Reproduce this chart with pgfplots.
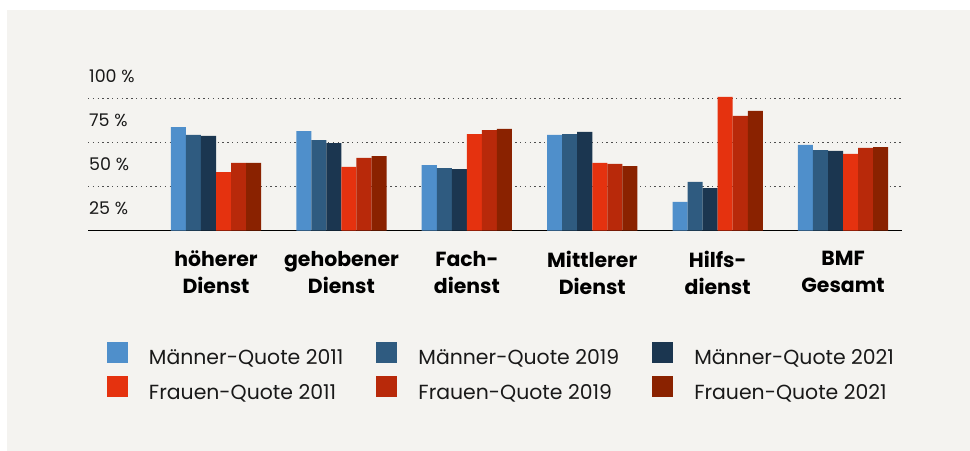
\documentclass[border=0pt]{standalone}
\usepackage{pgfplots}
\pgfplotsset{compat=1.18}
\usepackage{fontspec}
\setmainfont{Poppins}
\definecolor{cA}{HTML}{4F8FCB}
\definecolor{cB}{HTML}{2F5B80}
\definecolor{cC}{HTML}{1B3650}
\definecolor{cD}{HTML}{E5320F}
\definecolor{cE}{HTML}{B8290A}
\definecolor{cF}{HTML}{8A2200}
\definecolor{panel}{HTML}{F4F3F0}
\definecolor{gridc}{HTML}{4D4D4D}
\begin{document}
\begin{tikzpicture}
\fill[white] (-88bp,-220.5bp) rectangle (882bp,230.5bp);
\fill[panel] (-81bp,-220.5bp) rectangle (882bp,220.5bp);
\begin{axis}[
  at={(0,0)}, anchor=south west,
  scale only axis, width=814bp, height=176bp,
  xmin=-1.021, xmax=5.47, ymin=0, ymax=100,
  ybar, bar width=0.12,
  axis lines*=left,
  y axis line style={draw=none},
  x axis line style={black, line width=1.5bp},
  xtick={0,1,2,3,4,5},
  xticklabels={{höherer\\Dienst},{gehobener\\Dienst},{Fach-\\dienst},{Mittlerer\\Dienst},{Hilfs-\\dienst},{BMF\\Gesamt}},
  xticklabel style={align=center, font=\bfseries\fontsize{20.5}{27}\selectfont, yshift=-17bp},
  ytick={25,50,75,100},
  yticklabels={25 \%,50 \%,75 \%,100 \%},
  yticklabel style={anchor=west, inner sep=0pt, xshift=1bp, yshift=-22bp, font=\fontsize{17.5}{20}\selectfont, text=black!90},
  major tick length=0pt,
  extra y ticks={25,50,75},
  extra y tick labels={},
  extra y tick style={grid=major, major grid style={gridc, line width=1.4bp, dash pattern=on 1.4bp off 3.4bp}},
  legend columns=3,
  legend cell align=left,
  legend style={at={(rel axis cs:0.0233,-0.631)}, anchor=north west, draw=none, fill=none, inner sep=0pt, outer sep=0pt,
    row sep=10bp,
    nodes={inner sep=0pt, font=\fontsize{20.5}{24}\selectfont, text=black!90},
    /tikz/every odd column/.append style={column sep=21bp},
    /tikz/every even column/.append style={column sep=33bp}},
  legend image code/.code={\fill[#1] (0bp,-4.5bp) rectangle (21bp,16.5bp);},
]
\addplot[fill=cA, draw=none, bar shift=-0.30] coordinates {(0,58.8) (1,56.5) (2,37.2) (3,54.3) (4,16.2) (5,48.6)};
\addplot[fill=cB, draw=none, bar shift=-0.18] coordinates {(0,54.3) (1,51.4) (2,35.5) (3,54.8) (4,27.6) (5,45.7)};
\addplot[fill=cC, draw=none, bar shift=-0.06] coordinates {(0,53.7) (1,49.7) (2,34.9) (3,56.0) (4,24.1) (5,45.2)};
\addplot[fill=cD, draw=none, bar shift=0.06] coordinates {(0,33.2) (1,36.1) (2,54.8) (3,38.4) (4,75.9) (5,43.5)};
\addplot[fill=cE, draw=none, bar shift=0.18] coordinates {(0,38.4) (1,41.2) (2,57.1) (3,37.8) (4,65.1) (5,46.9)};
\addplot[fill=cF, draw=none, bar shift=0.30] coordinates {(0,38.4) (1,42.3) (2,57.7) (3,36.6) (4,67.9) (5,47.4)};
\legend{Männer-Quote 2011, Männer-Quote 2019, Männer-Quote 2021, Frauen-Quote 2011, Frauen-Quote 2019, Frauen-Quote 2021}
\end{axis}
\end{tikzpicture}
\end{document}
